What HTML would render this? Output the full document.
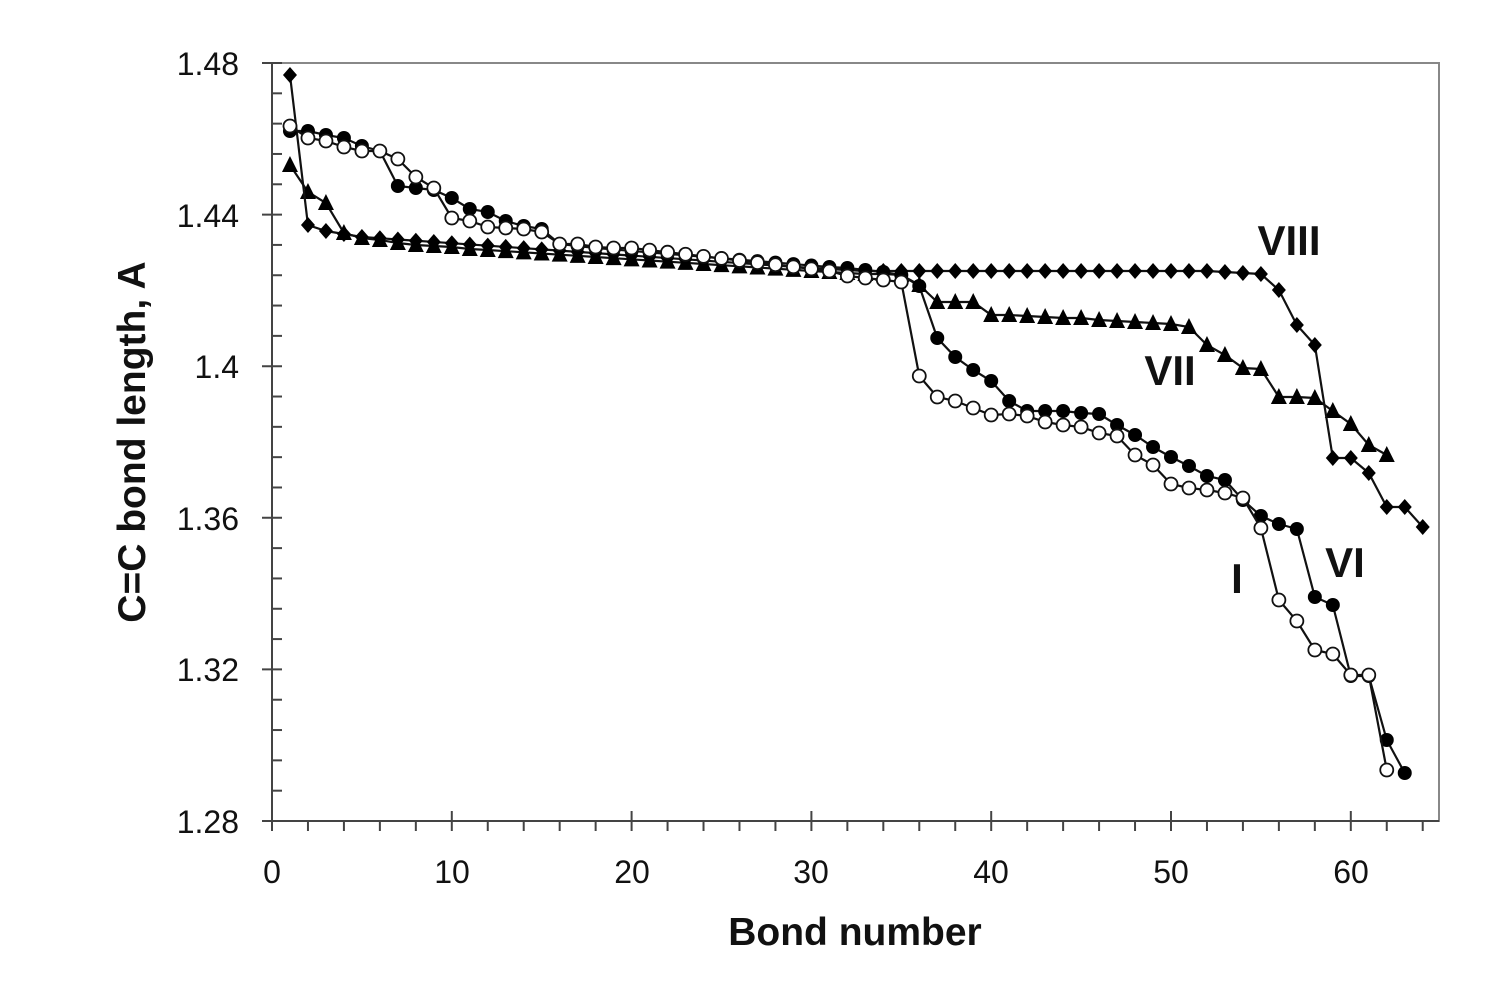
<!DOCTYPE html>
<html><head><meta charset="utf-8"><style>
body{margin:0;background:#fff;}
svg{display:block;font-family:"Liberation Sans",sans-serif;}
</style></head><body>
<svg id="s" width="1502" height="996" xmlns="http://www.w3.org/2000/svg">
<rect x="272" y="63" width="1167" height="758" fill="none" stroke="#888" stroke-width="2"/>
<g font-size="32" fill="#111" text-anchor="end">
<text x="239" y="75">1.48</text><text x="239" y="227">1.44</text><text x="239" y="378">1.4</text>
<text x="239" y="530">1.36</text><text x="239" y="681">1.32</text><text x="239" y="833">1.28</text>
</g>
<g font-size="32" fill="#111" text-anchor="middle">
<text x="272" y="883">0</text><text x="452" y="883">10</text><text x="632" y="883">20</text>
<text x="811" y="883">30</text><text x="991" y="883">40</text><text x="1171" y="883">50</text><text x="1351" y="883">60</text>
</g>
<text x="855" y="945" font-size="39" font-weight="bold" text-anchor="middle" fill="#111">Bond number</text>
<text transform="translate(145,442) rotate(-90)" font-size="39" font-weight="bold" text-anchor="middle" fill="#111">C=C bond length, A</text>
<g font-size="42" font-weight="bold" fill="#111" text-anchor="middle">
<text x="1289" y="255">VIII</text><text x="1170" y="385">VII</text><text x="1345" y="577">VI</text><text x="1237" y="593">I</text>
</g>
<g id="ax" stroke="#444" stroke-width="2"></g>
<g id="d"></g>
</svg>
<script>
var ns="http://www.w3.org/2000/svg";
function el(p,t,a){var e=document.createElementNS(ns,t);for(var k in a)e.setAttribute(k,a[k]);p.appendChild(e);return e;}
var ax=document.getElementById('ax'),d=document.getElementById('d');
el(ax,'line',{x1:272,y1:63,x2:272,y2:821});el(ax,'line',{x1:272,y1:821,x2:1439,y2:821});
for(var i=0;i<=25;i++){var y=821-i*30.32;if(i%5==0)el(ax,'line',{x1:262,y1:y,x2:282,y2:y});else el(ax,'line',{x1:272,y1:y,x2:282,y2:y});}
for(var i=0;i<=32;i++){var x=272+i*2*17.98;if(x>1439)break;if(i%5==0)el(ax,'line',{x1:x,y1:811,x2:x,y2:831});else el(ax,'line',{x1:x,y1:821,x2:x,y2:831});}
function px(i){return 272+17.98*i;}
function lin(a,b,n){var r=[];for(var i=0;i<n;i++)r.push(a+(b-a)*(i+1)/(n+1));return r;}
function fill(n,v){var r=[];for(var i=0;i<n;i++)r.push(v);return r;}
var I=[126,138,141,147,151,151,159,177,188,218,221,227,228,229,232,244,244,247,248,248].concat(lin(248,271,10),[271,276,278,280,282,376,397,401,408,415,414,416,422,425,427,433,436,455,465,484,488,490,493,498,528,600,621,650,654,675,675,770]);
var VI=[131,131,135,138,146,151,186,188,190,198,209,212,221,226,229,244,246,248].concat(lin(248,267,12),[267,268,270,272,275,286,338,357,370,381,401,411,411,411,413,414,425,435,447,457,466,476,480,500,516,524,529,597,605,676,676,740,773]);
var VII=[165,192,203,233,238,240,243,245,246,247,249,250].concat(lin(250,271,17),[271,272,273,274,274,275,285,302,302,302,315,315,316,317,318,318,320,321,322,323,324,327,345,355,368,369,397,397,398,411,424,445,455]);
var VIII=[75,225,231,234,237].concat(lin(237,268,24),[268,269,270],fill(20,271),[272,273,274],[290,325,345,458,458,473,507,507,527]);
function series(arr,mk){var pts=arr.map(function(y,i){return px(i+1)+','+y;}).join(' ');
el(d,'polyline',{points:pts,fill:'none',stroke:'#111','stroke-width':2.2});
arr.forEach(function(y,i){var x=px(i+1);
if(mk=='o')el(d,'circle',{cx:x,cy:y,r:6.5,fill:'#fff',stroke:'#111','stroke-width':1.8});
else if(mk=='f')el(d,'circle',{cx:x,cy:y,r:7,fill:'#000'});
else if(mk=='t')el(d,'polygon',{points:(x-8)+','+(y+7)+' '+(x+8)+','+(y+7)+' '+x+','+(y-9),fill:'#000'});
else el(d,'polygon',{points:x+','+(y-8)+' '+(x+7)+','+y+' '+x+','+(y+8)+' '+(x-7)+','+y,fill:'#000'});});}
series(VII,'t');series(VIII,'d');series(VI,'f');series(I,'o');
</script>
</body></html>
